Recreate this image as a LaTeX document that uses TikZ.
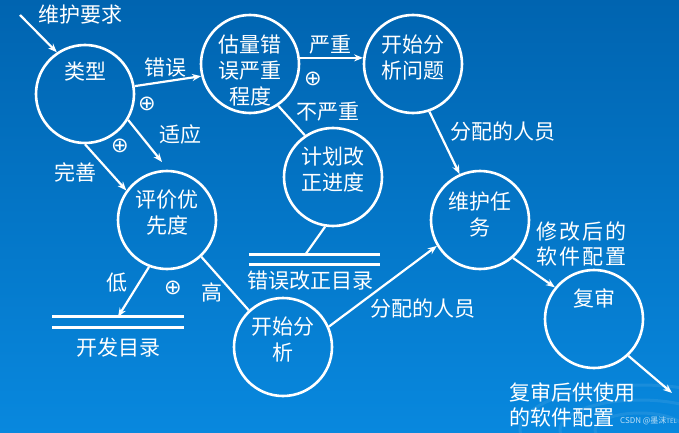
\documentclass[tikz,border=0pt]{standalone}
\usepackage{fontspec}
\setmainfont{Noto Sans CJK SC}
\newfontfamily\symfnt{DejaVu Sans}
\newfontfamily\spacedfnt{Noto Sans CJK SC}[LetterSpace=10]
\usetikzlibrary{arrows.meta}
\definecolor{bgtop}{RGB}{0,100,176}
\definecolor{bgbot}{RGB}{8,136,222}
\begin{document}
\begin{tikzpicture}[x=1pt,y=-1pt,
 circ/.style={circle,draw=white,line width=2.6pt,minimum size=98pt,inner sep=0pt},
 txt/.style={text=white,font=\fontsize{21}{26}\selectfont,align=center,inner sep=0pt},
 lefttxt/.style={text=white,font=\spacedfnt\fontsize{21}{25}\selectfont,align=left,anchor=west,inner sep=0pt},
 plainleft/.style={text=white,font=\fontsize{21}{25}\selectfont,align=left,anchor=west,inner sep=0pt},
 conn/.style={draw=white,line width=2.2pt},
 arr/.style={conn,-{Stealth[length=9pt,width=7pt]}},
 plus/.style={text=white,font=\symfnt\fontsize{21}{21}\selectfont,inner sep=0pt},
 store/.style={minimum width=131pt,minimum height=10pt,inner sep=0pt},
 storeline/.style={draw=white,line width=3pt},
 ripple/.style={draw=white,opacity=0.08,line width=3pt}]
\useasboundingbox (0,0) rectangle (679,433);
\shade[top color=bgtop,bottom color=bgbot] (0,0) rectangle (679,433);
% faint ripples
\begin{scope}
\clip (0,0) rectangle (679,433);
\draw[ripple] (640,430) ellipse (120pt and 45pt);
\draw[ripple] (640,430) ellipse (80pt and 30pt);
\draw[ripple] (640,430) ellipse (45pt and 17pt);
\end{scope}

% circles
\node[circ] (lx) at (85,94) {};
\node[circ] (gu) at (250,64) {};
\node[circ] (fx) at (413,64) {};
\node[circ] (jh) at (333,177) {};
\node[circ] (pj) at (167,220) {};
\node[circ] (ks) at (283,347) {};
\node[circ] (wh) at (480,220) {};
\node[circ] (fs) at (594,319) {};

% stores
\node[store] (kf) at (118,322) {};
\draw[storeline] (kf.north west) -- (kf.north east);
\draw[storeline] (kf.south west) -- (kf.south east);
\node[store] (cw) at (314.5,259.5) {};
\draw[storeline] (cw.north west) -- (cw.north east);
\draw[storeline] (cw.south west) -- (cw.south east);

% circle texts
\node[txt] (tlx) at (85,72) {类型};
\node[txt] (tgu) at (250,71) {估量错\\误严重\\程度};
\node[txt] (tfx) at (413,58) {开始分\\析问题};
\node[txt] (tjh) at (333,170) {计划改\\正进度};
\node[txt] (tpj) at (167,213) {评价优\\先度};
\node[txt] (tks) at (283,340) {开始分\\析};
\node[txt] (twh) at (480,214) {维护任\\务};
\node[txt] (tfs) at (594,298) {复审};
\node[txt] (tkf) at (118,348) {开发目录};
\node[txt] (tcw) at (310,281) {错误改正目录};

% coordinates
\coordinate (in) at (20,15);
\coordinate (syend) at (162,162);
\coordinate (cwtop) at (305,255);
\coordinate (out) at (672,393);

% connectors
\draw[arr] (in) -- (lx.124);
\draw[arr] (lx.9) -- (gu.194);
\draw[arr] (lx.-31) -- (syend);
\draw[arr] (lx.-90) -- (pj.144);
\draw[arr] (gu.7) -- (fx.173);
\draw[conn] (gu.-56) -- (jh.124);
\draw[conn] (jh.-99) -- (cwtop);
\draw[arr] (fx.-71) -- (wh.114);
\draw[arr] (pj.-111) -- (kf.north);
\draw[conn] (pj.-47) -- (ks.133);
\draw[arr] (ks.24) -- (wh.211);
\draw[arr] (wh.-49) -- (fs.141);
\draw[arr] (fs.-47) -- (out);

% labels
\node[txt] (l1) at (80,15) {维护要求};
\node[txt] (l2) at (165,68) {错误};
\node[plus] (p1) at (147,104) {⊕};
\node[txt] (l3) at (180,135) {适应};
\node[txt] (l4) at (75,172) {完善};
\node[plus] (p2) at (120,146) {⊕};
\node[txt] (l5) at (330,45) {严重};
\node[plus] (p3) at (313,79) {⊕};
\node[txt] (l6) at (328,112) {不严重};
\node[txt] (l7) at (503,132) {分配的人员};
\node[txt] (l8) at (117,283) {低};
\node[plus] (p4) at (173,288) {⊕};
\node[txt] (l9) at (212,292) {高};
\node[txt] (l10) at (423,309) {分配的人员};
\node[lefttxt] (l11) at (536,244) {修改后的\\软件配置};
\node[plainleft] (l12) at (509,405) {复审后供使用\\的软件配置};
\node[text=white,opacity=0.75,font=\fontsize{8}{8}\selectfont,inner sep=0pt,anchor=east] (wm) at (677,421) {CSDN @墨沫{\fontsize{6}{6}\selectfont TEL}};
\end{tikzpicture}
\end{document}
